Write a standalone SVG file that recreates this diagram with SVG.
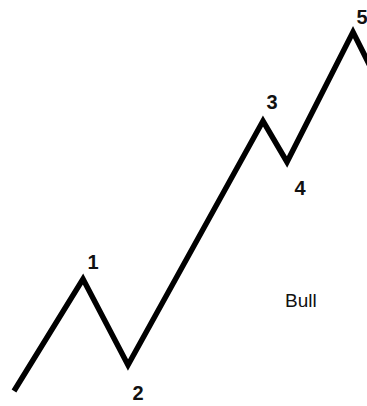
<svg xmlns="http://www.w3.org/2000/svg" width="367" height="406" viewBox="0 0 367 406">
<style>
.w{fill:none;stroke:#000;stroke-width:5.5;stroke-linejoin:miter;stroke-linecap:butt}
.l{font-family:"Liberation Sans",Arial,sans-serif;font-size:20px;font-weight:bold;fill:#111}
.b{font-family:"Liberation Sans",Arial,sans-serif;font-size:19px;fill:#111}
</style>
<rect width="367" height="406" fill="#fff"/>
<g id="connectors">
<polyline class="w" points="14,391 83,279 128,365 263,121 287,162 353,32 372,70"/>
</g>
<g id="n1"><text class="l" x="93" y="269" text-anchor="middle">1</text></g>
<g id="n2"><text class="l" x="138" y="400" text-anchor="middle">2</text></g>
<g id="n3"><text class="l" x="272" y="109" text-anchor="middle">3</text></g>
<g id="n4"><text class="l" x="300" y="195" text-anchor="middle">4</text></g>
<g id="n5"><text class="l" x="362" y="24" text-anchor="middle">5</text></g>
<g id="bull"><text class="b" x="285" y="307">Bull</text></g>
</svg>
